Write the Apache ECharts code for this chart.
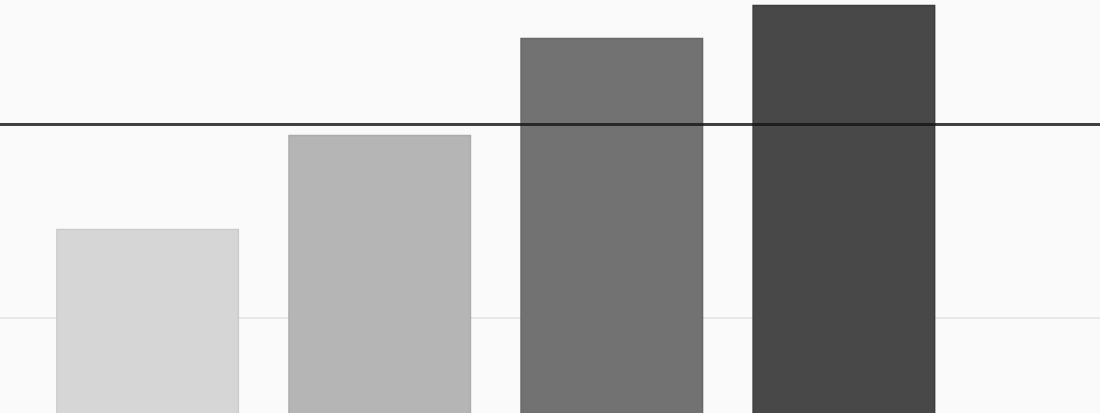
<!DOCTYPE html>
<html><head><meta charset="utf-8">
<script src="https://cdn.jsdelivr.net/npm/echarts@6/dist/echarts.min.js"></script>
<style>html,body{margin:0;padding:0;background:#fafafa}#c{width:1100px;height:413px}</style>
</head><body><div id="c"></div>
<script>
const categories = ['', 'A', 'B', 'C', 'D', ''];
const values = [null, 146, 194.5, 244.5, 261.5, null];
const barColors = ['#d6d6d6', '#d6d6d6', '#b5b5b5', '#727272', '#484848', '#484848'];
const borderColors = ['#cccccc', '#cccccc', '#acacac', '#686868', '#3c3c3c', '#3c3c3c'];
const refValue = 200;

const chart = echarts.init(document.getElementById('c'), null, {renderer: 'canvas'});
chart.setOption({
  backgroundColor: '#fafafa',
  animation: false,
  grid: {left: -200.5, top: -70, width: 1392.5, height: 582, containLabel: false, outerBoundsMode: 'none'},
  xAxis: {type: 'category', data: categories, axisLine: {show: false}, axisTick: {show: false}, axisLabel: {show: false}},
  yAxis: {type: 'value', min: 0, max: 300, interval: 100, axisLine: {show: false}, axisTick: {show: false}, axisLabel: {show: false},
    splitLine: {lineStyle: {color: '#e8e8e8', width: 2}}},
  series: [{
    type: 'bar',
    barWidth: 183,
    data: values.map((v, i) => ({value: v, itemStyle: {color: barColors[i], borderColor: borderColors[i], borderWidth: 1.5}})),
    markLine: {
      silent: true,
      symbol: 'none',
      label: {show: false},
      lineStyle: {color: 'rgba(20,20,20,0.8)', width: 3, type: 'solid'},
      data: [{yAxis: refValue}]
    }
  }]
});
</script></body></html>
